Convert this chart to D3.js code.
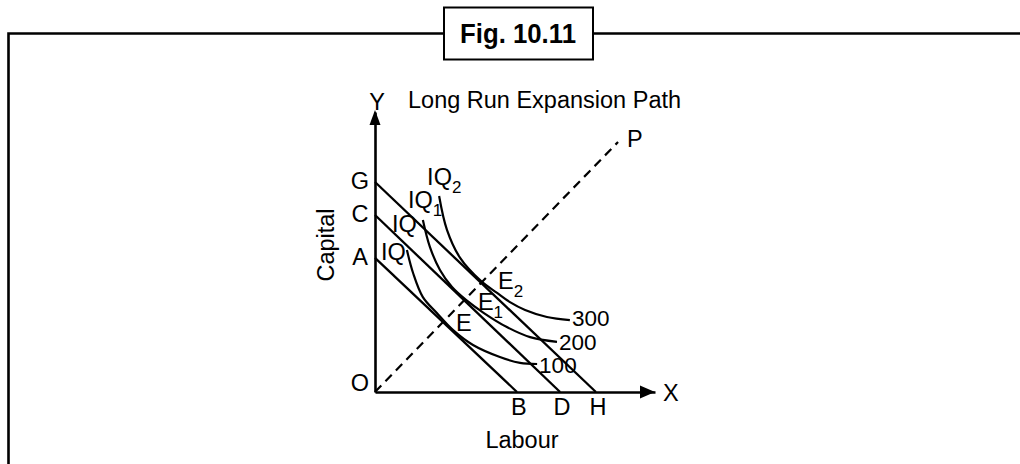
<!DOCTYPE html>
<html>
<head>
<meta charset="utf-8">
<script src="https://cdn.jsdelivr.net/npm/d3@7"></script>
<style>
  html, body { margin: 0; padding: 0; background: #fff; }
  svg { display: block; }
  text { font-family: "Liberation Sans", Arial, Helvetica, sans-serif; fill: #000; }
</style>
</head>
<body>
<svg id="chart" width="1020" height="464"></svg>
<script>
// ---- data (labour on x, capital on y; arbitrary units) ----
const figTitle = "Fig. 10.11";
const chartTitle = "Long Run Expansion Path";
const xAxisLabel = "Labour";
const yAxisLabel = "Capital";
const isoquantOutputs = [100, 200, 300];
const isoquantNames = ["IQ", "IQ1", "IQ2"];

// isocost (budget) lines: capital intercept, labour intercept
const budgetNames = [["A", "B"], ["C", "D"], ["G", "H"]];
const budgetCapital = [4.79, 6.32, 7.5];
const budgetLabour = [5.07, 6.61, 7.89];

// isoquants
const iq100 = [[1.14,5.07],[1.36,4.25],[1.71,3.39],[2.21,2.82],[2.79,2.21],[3.50,1.68],[4.46,1.25],[5.18,1.04],[5.79,1.00]];
const iq200 = [[1.71,6.14],[1.96,5.18],[2.32,4.36],[2.75,3.75],[3.25,3.29],[3.89,2.82],[4.71,2.32],[5.54,1.96],[6.50,1.79]];
const iq300 = [[2.29,7.00],[2.57,5.79],[3.04,4.79],[3.79,3.96],[4.36,3.54],[4.82,3.21],[5.36,2.93],[6.14,2.68],[6.96,2.57]];

// expansion path O -> P
const expansionPath = [[0, 0], [8.68, 8.93]];
// equilibrium points E, E1, E2
const equilibriumNames = ["E", "E1", "E2"];
const equilibriumPoints = [[2.46, 2.5], [3.21, 3.28], [3.79, 3.93]];

const axisMax = 10;

// ---- drawing ----
const svg = d3.select("#chart");
const x = d3.scaleLinear().domain([0, axisMax]).range([375, 655]);
const y = d3.scaleLinear().domain([0, axisMax]).range([392, 112]);

const FS = 23.5;

// outer frame
svg.append("path")
  .attr("d", "M8.5,464 V33.5 H1020")
  .attr("fill", "none").attr("stroke", "#000").attr("stroke-width", 2.6);

// figure caption box
svg.append("rect").attr("x", 444).attr("y", 7.5).attr("width", 149).attr("height", 52)
  .attr("fill", "#fff").attr("stroke", "#000").attr("stroke-width", 2);
svg.append("text").attr("x", 518).attr("y", 43).attr("text-anchor", "middle")
  .attr("font-size", 27).attr("font-weight", "bold")
  .attr("textLength", 116).attr("lengthAdjust", "spacingAndGlyphs")
  .text(figTitle);

// axes (no ticks)
const gx = svg.append("g").attr("transform", `translate(0,${y(0)})`)
  .call(d3.axisBottom(x).tickValues([]).tickSizeOuter(0));
const gy = svg.append("g").attr("transform", `translate(${x(0)},0)`)
  .call(d3.axisLeft(y).tickValues([]).tickSizeOuter(0));
[gx, gy].forEach(g => g.select(".domain").attr("stroke", "#000").attr("stroke-width", 2.6));

// arrowheads
const xe = x(axisMax), ye = y(axisMax);
svg.append("path").attr("d", `M${xe},${y(0)} L${xe-15},${y(0)-6.5} L${xe-15},${y(0)+6.5} Z`).attr("fill", "#000");
svg.append("path").attr("d", `M${x(0)},${ye-2} L${x(0)-5.5},${ye+13} L${x(0)+5.5},${ye+13} Z`).attr("fill", "#000");

// expansion path
const line = d3.line().x(d => x(d[0])).y(d => y(d[1]));
svg.append("path").datum(expansionPath).attr("d", line)
  .attr("fill", "none").attr("stroke", "#000").attr("stroke-width", 2.2)
  .attr("stroke-dasharray", "9,6");

// budget lines
budgetCapital.forEach((k, i) => {
  svg.append("path").datum([[0, k], [budgetLabour[i], 0]]).attr("d", line)
    .attr("fill", "none").attr("stroke", "#000").attr("stroke-width", 2.3);
  svg.append("text").attr("x", x(0) - 15).attr("y", y(k) + 7).attr("text-anchor", "middle")
    .attr("font-size", FS).text(budgetNames[i][0]);
  svg.append("text").attr("x", x(budgetLabour[i]) + 2).attr("y", y(0) + 23).attr("text-anchor", "middle")
    .attr("font-size", FS).text(budgetNames[i][1]);
});

// isoquants
const curve = d3.line().x(d => x(d[0])).y(d => y(d[1])).curve(d3.curveCatmullRom.alpha(0.5));
const isoquants = [iq100, iq200, iq300];
const numberDy = [8.5, 8.5, 6];
isoquants.forEach((pts, i) => {
  svg.append("path").datum(pts).attr("d", curve)
    .attr("fill", "none").attr("stroke", "#000").attr("stroke-width", 2.2);
  const last = pts[pts.length - 1];
  svg.append("text").attr("x", x(last[0]) + 2).attr("y", y(last[1]) + numberDy[i])
    .attr("font-size", 22.5).text(isoquantOutputs[i]);
});

// helper for label with subscript
function subLabel(px, py, main, sub) {
  const t = svg.append("text").attr("x", px).attr("y", py).attr("font-size", FS);
  t.append("tspan").text(main);
  if (sub) t.append("tspan").attr("font-size", 17).attr("dy", 8).text(sub);
}

// isoquant name labels (placed near curve tops)
subLabel(x(iq300[0][0]) - 12, y(iq300[0][1]) - 11, "IQ", "2");
subLabel(x(iq200[0][0]) - 15, y(iq200[0][1]) - 12, "IQ", "1");
subLabel(x(iq200[0][0]) - 31, y(iq200[0][1]) + 12, "IQ", "");
subLabel(x(iq100[0][0]) - 26, y(iq100[0][1]) + 10, "IQ", "");

// equilibrium labels
subLabel(x(equilibriumPoints[0][0]) + 12, y(equilibriumPoints[0][1]) + 9, "E", "");
subLabel(x(equilibriumPoints[1][0]) + 13, y(equilibriumPoints[1][1]) + 10, "E", "1");
subLabel(x(equilibriumPoints[2][0]) + 17, y(equilibriumPoints[2][1]) + 7, "E", "2");

// axis letters
svg.append("text").attr("x", x(0) - 15).attr("y", y(0) - 1).attr("text-anchor", "middle").attr("font-size", FS).text("O");
svg.append("text").attr("x", x(axisMax) + 8).attr("y", y(0) + 9).attr("font-size", FS).text("X");
svg.append("text").attr("x", x(0) + 2).attr("y", y(axisMax) - 2).attr("text-anchor", "middle").attr("font-size", FS).text("Y");
svg.append("text").attr("x", x(expansionPath[1][0]) + 9).attr("y", y(expansionPath[1][1]) + 5).attr("font-size", FS).text("P");

// titles
svg.append("text").attr("x", 408).attr("y", 108).attr("font-size", FS).text(chartTitle);
svg.append("text").attr("x", 522).attr("y", 448).attr("text-anchor", "middle").attr("font-size", FS).text(xAxisLabel);
svg.append("text").attr("transform", "translate(334,245) rotate(-90)").attr("text-anchor", "middle").attr("font-size", FS).text(yAxisLabel);
</script>
</body>
</html>
